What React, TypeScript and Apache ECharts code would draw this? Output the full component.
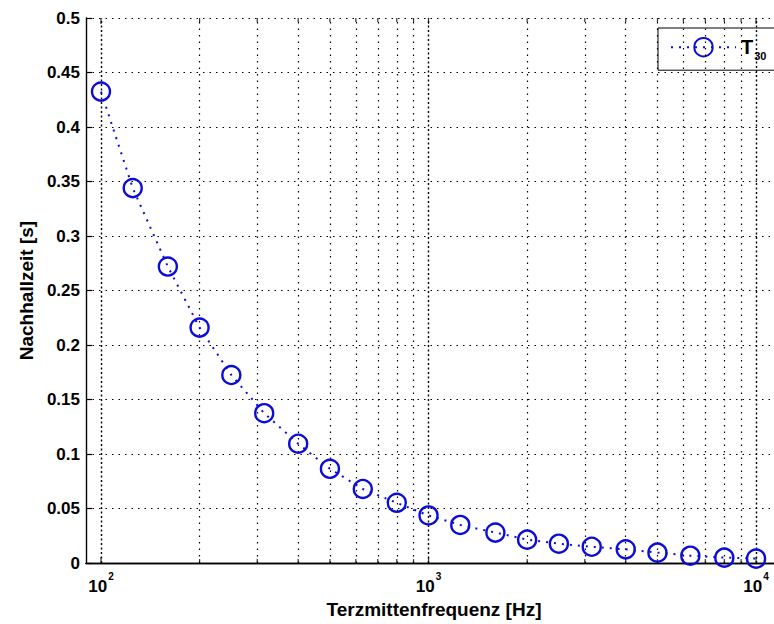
import React, { useEffect, useRef } from "react";
import * as echarts from "echarts";

const freqs = [100, 125, 160, 200, 250, 315, 400, 500, 630, 800, 1000, 1250, 1600, 2000, 2500, 3150, 4000, 5000, 6300, 8000, 10000];
const t30 = [0.4325, 0.344, 0.272, 0.216, 0.1725, 0.1375, 0.1095, 0.0865, 0.068, 0.0553, 0.0437, 0.035, 0.028, 0.0215, 0.0178, 0.015, 0.0126, 0.0096, 0.0068, 0.005, 0.0041];
const majorFreqs = [100, 1000, 10000];
const minorFreqs = [200, 300, 400, 500, 600, 700, 800, 900, 2000, 3000, 4000, 5000, 6000, 7000, 8000, 9000];
const xMin = 90;
const xMax = 12000;
const yMin = 0;
const yMax = 0.5;
const yStep = 0.05;
const seriesName = "T30";
const xTitle = "Terzmittenfrequenz [Hz]";
const yTitle = "Nachhallzeit [s]";

const BLUE = "#0c0cd8";
const FONT = "'Liberation Sans', Arial, sans-serif";

function powLabel(v: number): string {
  const l = Math.log10(v);
  const e = Math.round(l);
  if (Math.abs(l - e) > 1e-6) return "";
  return `{b|10}{s|${e}}`;
}

export default function App() {
  const ref = useRef<HTMLDivElement>(null);
  useEffect(() => {
    if (!ref.current) return;
    const chart = echarts.init(ref.current, undefined, { renderer: "svg" });
    const axisLineStyle = { color: "#000", width: 1.4 };
    const tickMark = (vals: number[], y: number, off: number, h: number) => ({
      type: "scatter",
      xAxisIndex: 0,
      yAxisIndex: 0,
      data: vals.map((f) => [f, y]),
      symbol: "rect",
      symbolSize: [1.2, h],
      symbolOffset: [0, off],
      itemStyle: { color: "#000" },
      silent: true,
      z: 1,
    });
    chart.setOption({
      animation: false,
      backgroundColor: "#fff",
      grid: { left: 86, top: 18, width: 696, height: 547, containLabel: false },
      legend: {
        left: 658,
        top: 28,
        orient: "vertical",
        padding: [9, 9, 9, 12],
        itemWidth: 65,
        itemHeight: 23,
        borderColor: "#000",
        borderWidth: 1,
        borderRadius: 0,
        backgroundColor: "#fff",
        data: [seriesName],
        formatter: () => "{t|T}{s|30}",
        textStyle: {
          rich: {
            t: { fontSize: 20, fontWeight: "bold", fontFamily: FONT, color: "#000", lineHeight: 20, verticalAlign: "top" },
            s: { fontSize: 11, fontWeight: "bold", fontFamily: FONT, color: "#000", lineHeight: 11, verticalAlign: "top", padding: [13, 0, 0, 1] },
          },
        },
      },
      xAxis: [
        {
          type: "log",
          logBase: 10,
          min: xMin,
          max: xMax,
          position: "bottom",
          name: xTitle,
          nameLocation: "middle",
          nameGap: 31,
          nameTextStyle: { fontSize: 19, fontWeight: "bold", fontFamily: FONT, color: "#000" },
          axisLine: { show: true, lineStyle: axisLineStyle },
          axisTick: { show: false },
          axisLabel: {
            show: true,
            margin: 8,
            customValues: majorFreqs,
            formatter: (v: number) => powLabel(v),
            rich: {
              b: { fontSize: 17, fontWeight: "bold", fontFamily: FONT, color: "#000", verticalAlign: "top", lineHeight: 17, padding: [7, 0, 0, 0] },
              s: { fontSize: 10, fontWeight: "bold", fontFamily: FONT, color: "#000", verticalAlign: "top", lineHeight: 10, padding: [0, 0, 0, 1] },
            },
          },
          splitLine: { show: false },
        },
        {
          type: "log",
          logBase: 10,
          min: xMin,
          max: xMax,
          position: "top",
          axisLine: { show: true, lineStyle: axisLineStyle },
          axisTick: { show: false },
          axisLabel: { show: false },
          splitLine: { show: false },
        },
      ],
      yAxis: [
        {
          type: "value",
          min: yMin,
          max: yMax,
          interval: yStep,
          position: "left",
          name: yTitle,
          nameLocation: "middle",
          nameGap: 50,
          nameTextStyle: { fontSize: 19, fontWeight: "bold", fontFamily: FONT, color: "#000" },
          axisLine: { show: true, lineStyle: axisLineStyle },
          axisTick: { show: true, inside: true, length: 6, lineStyle: { color: "#000", width: 1.2 } },
          axisLabel: { show: true, margin: 6, fontSize: 17, fontWeight: "bold", fontFamily: FONT, color: "#000" },
          splitLine: { show: true, lineStyle: { color: "#000", width: 1.2, type: [1.5, 5] } },
        },
        {
          type: "value",
          min: yMin,
          max: yMax,
          interval: yStep,
          position: "right",
          axisLine: { show: true, lineStyle: axisLineStyle },
          axisTick: { show: true, inside: true, length: 6, lineStyle: { color: "#000", width: 1.2 } },
          axisLabel: { show: false },
          splitLine: { show: false },
        },
      ],
      series: [
        {
          ...tickMark(minorFreqs, yMin, -2, 4),
          name: "minorBottom",
          markLine: {
            silent: true,
            symbol: ["none", "none"],
            label: { show: false },
            lineStyle: { color: "#000", width: 1.2, type: [1.5, 5] },
            emphasis: { disabled: true },
            data: minorFreqs.map((f) => ({ xAxis: f })),
          },
        },
        { ...tickMark(minorFreqs, yMax, 2, 4), name: "minorTop" },
        {
          ...tickMark(majorFreqs, yMin, -3, 6),
          name: "majorBottom",
          markLine: {
            silent: true,
            symbol: ["none", "none"],
            label: { show: false },
            lineStyle: { color: "#000", width: 1.4, type: [2, 2.5] },
            emphasis: { disabled: true },
            data: majorFreqs.map((f) => ({ xAxis: f })),
          },
        },
        { ...tickMark(majorFreqs, yMax, 3, 6), name: "majorTop" },
        {
          name: seriesName,
          type: "line",
          xAxisIndex: 0,
          yAxisIndex: 0,
          data: freqs.map((f, i) => [f, t30[i]]),
          symbol: "circle",
          symbolSize: 18,
          showSymbol: true,
          clip: false,
          z: 5,
          itemStyle: { color: "rgba(255,255,255,0)", borderColor: BLUE, borderWidth: 2.4 },
          lineStyle: { color: BLUE, width: 2, type: [2, 6] },
        },
      ],
    });
    return () => chart.dispose();
  }, []);
  return (
    <div style={{ position: "fixed", left: 0, top: 0, width: 774, height: 624, overflow: "hidden", background: "#fff" }}>
      <div ref={ref} style={{ width: 800, height: 624 }} />
    </div>
  );
}
